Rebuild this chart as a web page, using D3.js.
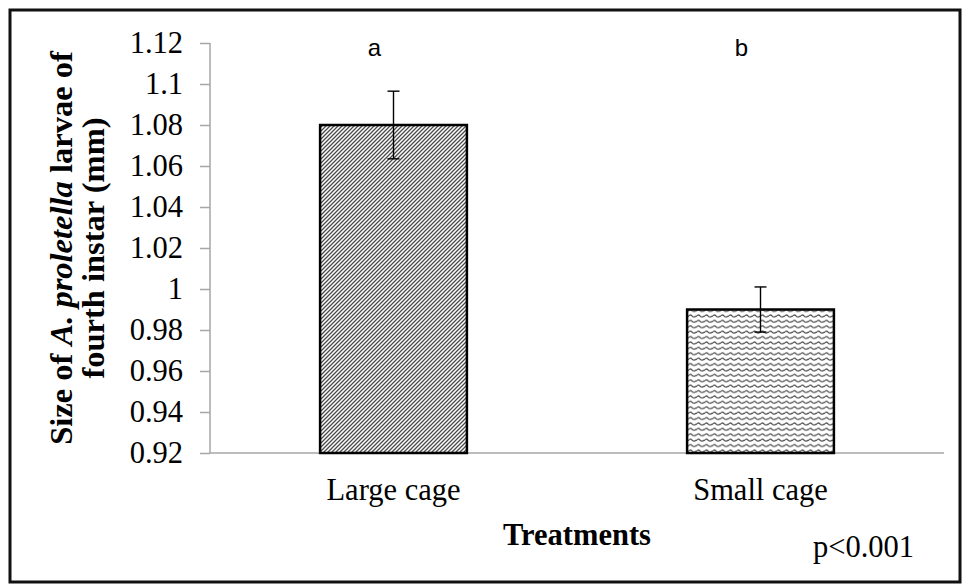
<!DOCTYPE html>
<html>
<head>
<meta charset="utf-8">
<script src="https://cdn.jsdelivr.net/npm/d3@7/dist/d3.min.js"></script>
<style>
  html, body { margin: 0; padding: 0; background: #fff; }
  svg { display: block; }
</style>
</head>
<body>
<svg id="chart" width="964" height="585"></svg>
<script>
// Larval size of A. proletella (fourth instar) by cage treatment
const categories = ["Large cage", "Small cage"];
const meanSize = [1.08, 0.99];
const stdError = [0.0165, 0.011];
const groupLetters = ["a", "b"];
const patterns = ["diag", "wave"];
const yTickValues = [0.92, 0.94, 0.96, 0.98, 1.0, 1.02, 1.04, 1.06, 1.08, 1.1, 1.12];
const yTickLabels = ["0.92", "0.94", "0.96", "0.98", "1", "1.02", "1.04", "1.06", "1.08", "1.1", "1.12"];

const svg = d3.select("#chart");
const serif = "'Liberation Serif', 'Times New Roman', serif";
const axisGrey = "#a6a6a6";

// outer frame
svg.append("rect")
  .attr("x", 10).attr("y", 10)
  .attr("width", 950).attr("height", 572)
  .attr("fill", "#fff").attr("stroke", "#111").attr("stroke-width", 3);

// fill patterns
const defs = svg.append("defs");
const pDiag = defs.append("pattern")
  .attr("id", "diag").attr("patternUnits", "userSpaceOnUse")
  .attr("width", 4).attr("height", 4);
pDiag.append("rect").attr("width", 4).attr("height", 4).attr("fill", "#fff");
pDiag.append("path")
  .attr("d", "M-1,1 L1,-1 M0,4 L4,0 M3,5 L5,3")
  .attr("stroke", "#4a4a4a").attr("stroke-width", 1.3);

const pWave = defs.append("pattern")
  .attr("id", "wave").attr("patternUnits", "userSpaceOnUse")
  .attr("width", 8).attr("height", 5.4);
pWave.append("rect").attr("width", 8).attr("height", 5.4).attr("fill", "#fff");
pWave.append("path")
  .attr("d", "M0,3.6 Q2,0.6 4,2.7 T8,2.7")
  .attr("fill", "none")
  .attr("stroke", "#555").attr("stroke-width", 1.2);

// scales
const x = d3.scaleBand()
  .domain(categories)
  .range([210, 944])
  .paddingInner(0.6)
  .paddingOuter(0.3);

const y = d3.scaleLinear()
  .domain([0.92, 1.12])
  .range([453, 43]);

// y axis
const yAxis = d3.axisLeft(y)
  .tickValues(yTickValues)
  .tickFormat((d, i) => yTickLabels[i])
  .tickSize(10)
  .tickPadding(17);

const gy = svg.append("g")
  .attr("transform", "translate(210,0)")
  .call(yAxis);
gy.select(".domain").attr("stroke", axisGrey).attr("stroke-width", 1.5).attr("d", "M0,43V453");
gy.selectAll(".tick line").attr("stroke", axisGrey).attr("stroke-width", 1.5);
gy.selectAll(".tick text")
  .attr("font-family", serif)
  .attr("font-size", 30.5)
  .attr("fill", "#000");

// x axis baseline
const gx = svg.append("g")
  .attr("transform", "translate(0,453)")
  .call(d3.axisBottom(x).tickSize(0).tickPadding(0));
gx.select(".domain").attr("stroke", axisGrey).attr("stroke-width", 1.5).attr("d", "M210,0H944");
gx.selectAll(".tick text")
  .attr("font-family", serif)
  .attr("font-size", 30.5)
  .attr("fill", "#000")
  .attr("dy", null)
  .attr("y", 47);

// bars
const rows = categories.map((c, i) => ({
  cat: c, v: meanSize[i], e: stdError[i], letter: groupLetters[i], pat: patterns[i]
}));

svg.append("g").selectAll("rect")
  .data(rows)
  .join("rect")
  .attr("x", d => x(d.cat))
  .attr("y", d => y(d.v))
  .attr("width", x.bandwidth())
  .attr("height", d => y(0.92) - y(d.v))
  .attr("fill", d => `url(#${d.pat})`)
  .attr("stroke", "#000")
  .attr("stroke-width", 2.5);

// error bars
const eb = svg.append("g")
  .attr("stroke", "#000").attr("stroke-width", 1.4).attr("fill", "none");
rows.forEach(d => {
  const cx = x(d.cat) + x.bandwidth() / 2;
  const top = y(d.v + d.e), bot = y(d.v - d.e);
  eb.append("line").attr("x1", cx).attr("x2", cx).attr("y1", top).attr("y2", bot);
  eb.append("line").attr("x1", cx - 6).attr("x2", cx + 6).attr("y1", top).attr("y2", top);
  eb.append("line").attr("x1", cx - 6).attr("x2", cx + 6).attr("y1", bot).attr("y2", bot);
});

// significance letters
svg.append("g").selectAll("text")
  .data(rows)
  .join("text")
  .attr("x", d => x(d.cat) + x.bandwidth() / 2 - 19)
  .attr("y", 56)
  .attr("text-anchor", "middle")
  .attr("font-family", "'Liberation Sans', Arial, sans-serif")
  .attr("font-size", 24)
  .attr("fill", "#000")
  .text(d => d.letter);

// y axis title (two lines, rotated)
const yTitle1 = svg.append("text")
  .attr("transform", "translate(72,248) rotate(-90)")
  .attr("text-anchor", "middle")
  .attr("font-family", serif)
  .attr("font-weight", "bold")
  .attr("font-size", 32.5)
  .attr("fill", "#000");
yTitle1.append("tspan").text("Size of ");
yTitle1.append("tspan").attr("font-style", "italic").text("A. proletella");
yTitle1.append("tspan").text(" larvae of");

svg.append("text")
  .attr("transform", "translate(104,248) rotate(-90)")
  .attr("text-anchor", "middle")
  .attr("font-family", serif)
  .attr("font-weight", "bold")
  .attr("font-size", 32.5)
  .attr("fill", "#000")
  .text("fourth instar (mm)");

// x axis title
svg.append("text")
  .attr("x", 577).attr("y", 545)
  .attr("text-anchor", "middle")
  .attr("font-family", serif)
  .attr("font-weight", "bold")
  .attr("font-size", 30.5)
  .attr("fill", "#000")
  .text("Treatments");

// p-value note
svg.append("text")
  .attr("x", 813).attr("y", 557)
  .attr("font-family", serif)
  .attr("font-size", 30.5)
  .attr("fill", "#000")
  .text("p<0.001");
</script>
</body>
</html>
